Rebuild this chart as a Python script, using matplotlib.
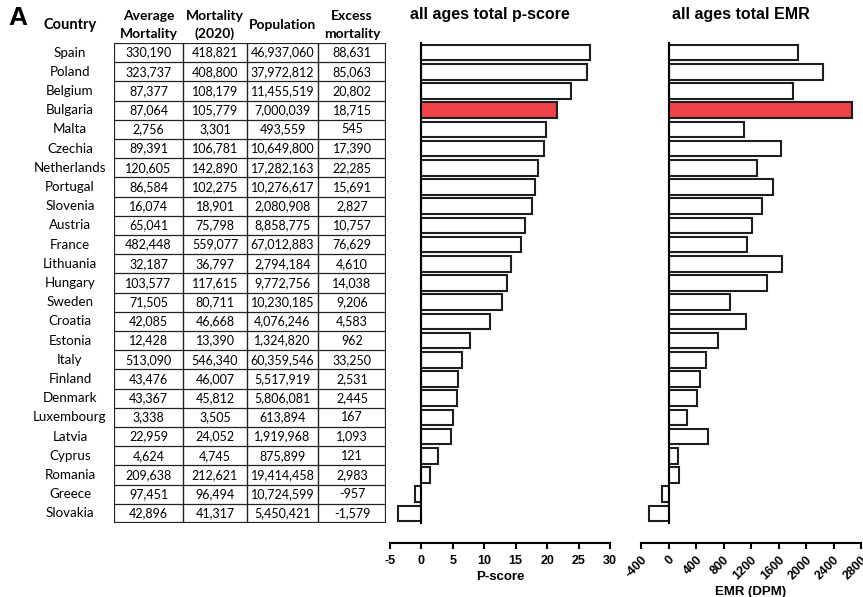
import matplotlib
matplotlib.use("Agg")
import matplotlib.pyplot as plt
from matplotlib.lines import Line2D

plt.rcParams["axes.unicode_minus"] = False

# données
countries = ["Spain", "Poland", "Belgium", "Bulgaria", "Malta", "Czechia", "Netherlands",
             "Portugal", "Slovenia", "Austria", "France", "Lithuania", "Hungary", "Sweden",
             "Croatia", "Estonia", "Italy", "Finland", "Denmark", "Luxembourg", "Latvia",
             "Cyprus", "Romania", "Greece", "Slovakia"]
avg_mortality = ["330,190", "323,737", "87,377", "87,064", "2,756", "89,391", "120,605",
                 "86,584", "16,074", "65,041", "482,448", "32,187", "103,577", "71,505",
                 "42,085", "12,428", "513,090", "43,476", "43,367", "3,338", "22,959",
                 "4,624", "209,638", "97,451", "42,896"]
mortality_2020 = ["418,821", "408,800", "108,179", "105,779", "3,301", "106,781", "142,890",
                  "102,275", "18,901", "75,798", "559,077", "36,797", "117,615", "80,711",
                  "46,668", "13,390", "546,340", "46,007", "45,812", "3,505", "24,052",
                  "4,745", "212,621", "96,494", "41,317"]
population = ["46,937,060", "37,972,812", "11,455,519", "7,000,039", "493,559", "10,649,800",
              "17,282,163", "10,276,617", "2,080,908", "8,858,775", "67,012,883", "2,794,184",
              "9,772,756", "10,230,185", "4,076,246", "1,324,820", "60,359,546", "5,517,919",
              "5,806,081", "613,894", "1,919,968", "875,899", "19,414,458", "10,724,599",
              "5,450,421"]
excess = ["88,631", "85,063", "20,802", "18,715", "545", "17,390", "22,285", "15,691",
          "2,827", "10,757", "76,629", "4,610", "14,038", "9,206", "4,583", "962", "33,250",
          "2,531", "2,445", "167", "1,093", "121", "2,983", "-957", "-1,579"]
pscore = [26.84, 26.28, 23.81, 21.50, 19.78, 19.45, 18.48, 18.12, 17.59, 16.54, 15.88,
          14.32, 13.55, 12.87, 10.89, 7.74, 6.48, 5.82, 5.64, 5.00, 4.76, 2.62, 1.42,
          -0.98, -3.68]
emr = [1888, 2240, 1816, 2674, 1104, 1633, 1289, 1527, 1359, 1214, 1143, 1650, 1437, 900,
       1124, 726, 551, 459, 421, 272, 569, 138, 154, -89, -290]
highlight = "Bulgaria"

headers = ["Average\nMortality", "Mortality\n(2020)", "Population", "Excess\nmortality"]
col_edges = [0, 69, 133, 204, 272]

W, H = 863, 597
fig = plt.figure(figsize=(W / 100, H / 100), dpi=100)
top, bot = 43, 523
n = len(countries)
rows = list(range(n))

def fx(px):
    return px / W

def fy(py):
    return 1 - py / H

tfont = "Lato"
ax_t = fig.add_axes([fx(114), fy(bot), fx(386 - 114), fy(top) - fy(bot)])
ax_t.set_xlim(0, col_edges[-1])
ax_t.set_ylim(n - 0.5, -0.5)
ax_t.axis("off")
cols = [avg_mortality, mortality_2020, population, excess]
for j, col in enumerate(cols):
    xc = (col_edges[j] + col_edges[j + 1]) / 2
    for i in rows:
        ax_t.text(xc, i, col[i], ha="center", va="center", fontsize=9, family=tfont)
    ax_t.text(xc, -1.45, headers[j], ha="center", va="center", fontsize=10,
              family=tfont, fontweight="bold", linespacing=1.55, clip_on=False)
for i in rows:
    ax_t.text(-44, i, countries[i], ha="center", va="center", fontsize=9.6,
              family=tfont, clip_on=False)
ax_t.text(-44, -1.45, "Country", ha="center", va="center", fontsize=10.5,
          family=tfont, fontweight="bold", clip_on=False)
for k in range(1, n):
    ax_t.add_line(Line2D([0, col_edges[-1]], [k - 0.5, k - 0.5], color="#222222", lw=0.9))
for k, xe in enumerate(col_edges):
    ax_t.add_line(Line2D([xe, xe], [-0.5, n - 0.5], color="#222222",
                         lw=1.6 if k in (0, len(col_edges) - 1) else 1.0))
for ye in (-0.5, n - 0.5):
    ax_t.add_line(Line2D([0, col_edges[-1]], [ye, ye], color="#222222", lw=1.6))

fig.text(fx(18), fy(18), "A", ha="center", va="center", fontsize=19,
         fontweight="bold", family="Liberation Sans")

def bar_panel(left, values, xlim, ticks, title, xlabel, rot):
    ax = fig.add_axes([fx(left), fy(bot), fx(220), fy(top) - fy(bot)])
    colors = ["#EE4247" if c == highlight else "white" for c in countries]
    ax.barh(rows, values, height=0.82, color=colors, edgecolor="#1e1e1e", linewidth=1.5)
    ax.set_ylim(n - 0.5, -0.5)
    ax.set_xlim(*xlim)
    ax.set_yticks([])
    for s in ("top", "right"):
        ax.spines[s].set_visible(False)
    ax.spines["left"].set_position(("data", 0))
    ax.spines["left"].set_linewidth(1.5)
    ax.spines["bottom"].set_position(("outward", 14.5))
    ax.spines["bottom"].set_linewidth(1.5)
    ax.set_xticks(ticks)
    ax.tick_params(axis="x", length=4.5, width=1.5, pad=4 if not rot else 3)
    for lab in ax.get_xticklabels():
        lab.set_fontweight("bold")
        lab.set_fontsize(9)
        lab.set_family("Liberation Sans")
        if rot:
            lab.set_rotation(45)
            lab.set_ha("right")
            lab.set_rotation_mode("anchor")
    ax.set_xlabel(xlabel, fontsize=9.5, fontweight="bold", family="Liberation Sans",
                  labelpad=3)
    ax.set_title(title, fontsize=11.5, fontweight="bold", family="Liberation Sans",
                 pad=17, x=0.455)
    ax.patch.set_alpha(0)
    return ax

bar_panel(390, pscore, (-5, 30), list(range(-5, 31, 5)), "all ages total p-score",
          "P-score", False)
bar_panel(641, emr, (-400, 2800), list(range(-400, 2801, 400)), "all ages total EMR",
          "EMR (DPM)", True)

fig.savefig("out.png", dpi=100)
